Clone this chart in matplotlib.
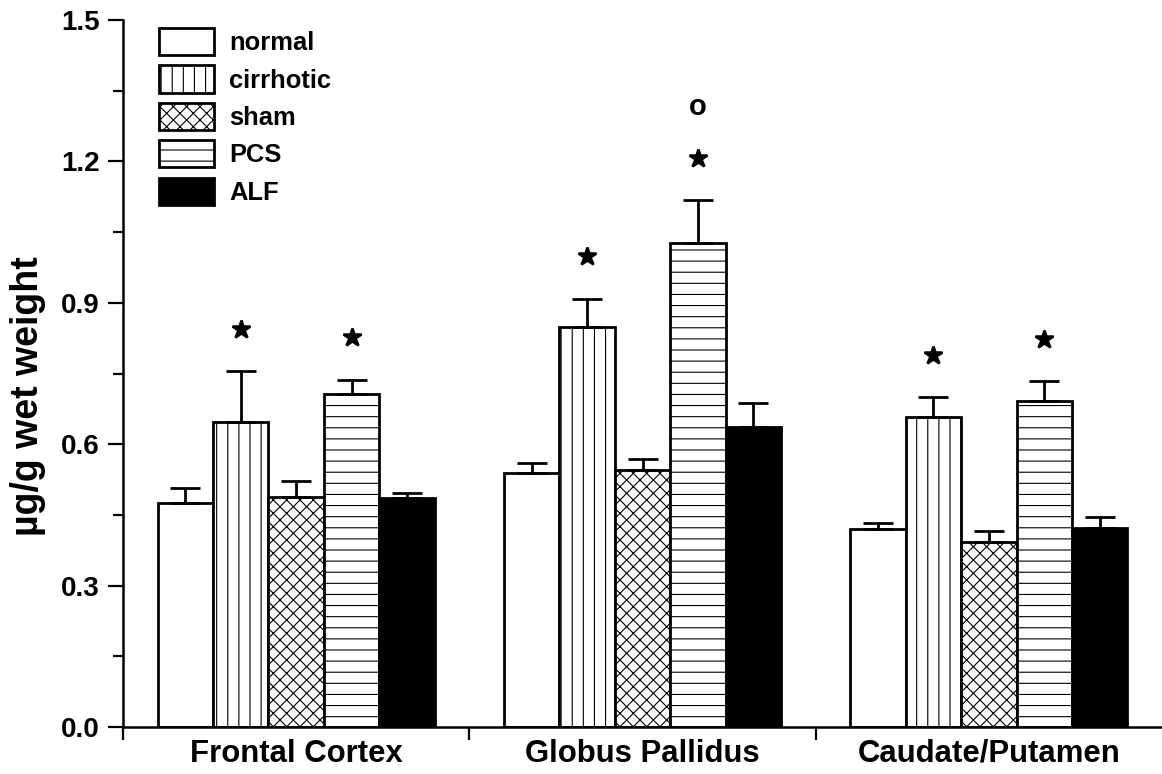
import matplotlib
matplotlib.use("Agg")
import matplotlib.pyplot as plt
import numpy as np
from matplotlib.ticker import FixedLocator, FormatStrFormatter

plt.rcParams['font.family'] = ['Liberation Sans', 'DejaVu Sans']
plt.rcParams['font.weight'] = 'bold'
plt.rcParams['hatch.linewidth'] = 0.4

regions = ['Frontal Cortex', 'Globus Pallidus', 'Caudate/Putamen']
groups = ['normal', 'cirrhotic', 'sham', 'PCS', 'ALF']

normal = [0.475, 0.539, 0.420]
normal_err = [0.032, 0.021, 0.013]
cirrhotic = [0.647, 0.849, 0.658]
cirrhotic_err = [0.108, 0.060, 0.042]
sham = [0.488, 0.545, 0.393]
sham_err = [0.034, 0.024, 0.023]
pcs = [0.707, 1.027, 0.692]
pcs_err = [0.030, 0.091, 0.042]
alf = [0.486, 0.637, 0.422]
alf_err = [0.010, 0.050, 0.024]

# significance marks: (group index, region index)
stars = [(1, 0), (3, 0), (1, 1), (3, 1), (1, 2), (3, 2)]
circles = [(3, 1)]

means = [normal, cirrhotic, sham, pcs, alf]
errs = [normal_err, cirrhotic_err, sham_err, pcs_err, alf_err]
hatches = ['', '|||', 'xxxxx', '---', '']
fills = ['white', 'white', 'white', 'white', 'black']

fig = plt.figure(figsize=(5.81, 3.87), dpi=200)
ax = fig.add_axes([123/1162, 47/774, 1 - 123/1162, 707/774])

x = np.arange(len(regions))
w = 0.16
for i, g in enumerate(groups):
    ax.bar(x + (i - 2) * w, means[i], w, yerr=[np.zeros(3), errs[i]],
           color=fills[i], edgecolor='black', linewidth=1.0, hatch=hatches[i],
           label=g, capsize=5.4,
           error_kw=dict(elinewidth=1.0, capthick=1.0, ecolor='black'))

for gi, ri in stars:
    yy = means[gi][ri] + errs[gi][ri] + 0.09
    ax.plot(x[ri] + (gi - 2) * w, yy, marker='*', ms=6.8, color='black',
            mec='black', mew=0.9, mfc='black', clip_on=False)
for gi, ri in circles:
    yy = means[gi][ri] + errs[gi][ri] + 0.181
    ax.text(x[ri] + (gi - 2) * w, yy, 'o', ha='center', va='baseline',
            fontsize=10.5, fontweight='bold')

ax.set_xlim(-0.5, 2.5)
ax.set_ylim(0, 1.5)
ax.spines['top'].set_visible(False)
ax.spines['right'].set_visible(False)
ax.spines['left'].set_linewidth(0.9)
ax.spines['bottom'].set_linewidth(0.9)

ax.set_yticks(np.arange(0, 1.51, 0.3))
ax.yaxis.set_minor_locator(FixedLocator(np.arange(0.15, 1.5, 0.3)))
ax.yaxis.set_major_formatter(FormatStrFormatter('%.1f'))
ax.tick_params(axis='y', which='major', direction='out', length=5.4, width=0.8,
               labelsize=10, pad=3)
ax.tick_params(axis='y', which='minor', direction='out', length=3.6, width=0.8)

ax.set_xticks([-0.5, 0.5, 1.5])
ax.set_xticklabels([])
ax.set_xticks(x, minor=True)
ax.set_xticklabels(regions, minor=True)
ax.tick_params(axis='x', which='major', direction='out', length=4.5, width=0.8)
ax.tick_params(axis='x', which='minor', length=0, labelsize=11.2, pad=4.3)

fig.text(28/1162, 1 - 396/774, 'µg/g wet weight', rotation=90, ha='center',
         va='center', fontsize=13.5, fontweight='bold')

ax.legend(loc='upper left', bbox_to_anchor=(159/1162, 1 - 28/774),
          bbox_transform=fig.transFigure, frameon=False, fontsize=9.2,
          borderpad=0, borderaxespad=0, handlelength=2.15, handleheight=1.26,
          handletextpad=0.6, labelspacing=0.4)

fig.savefig('out.png', dpi=200)
